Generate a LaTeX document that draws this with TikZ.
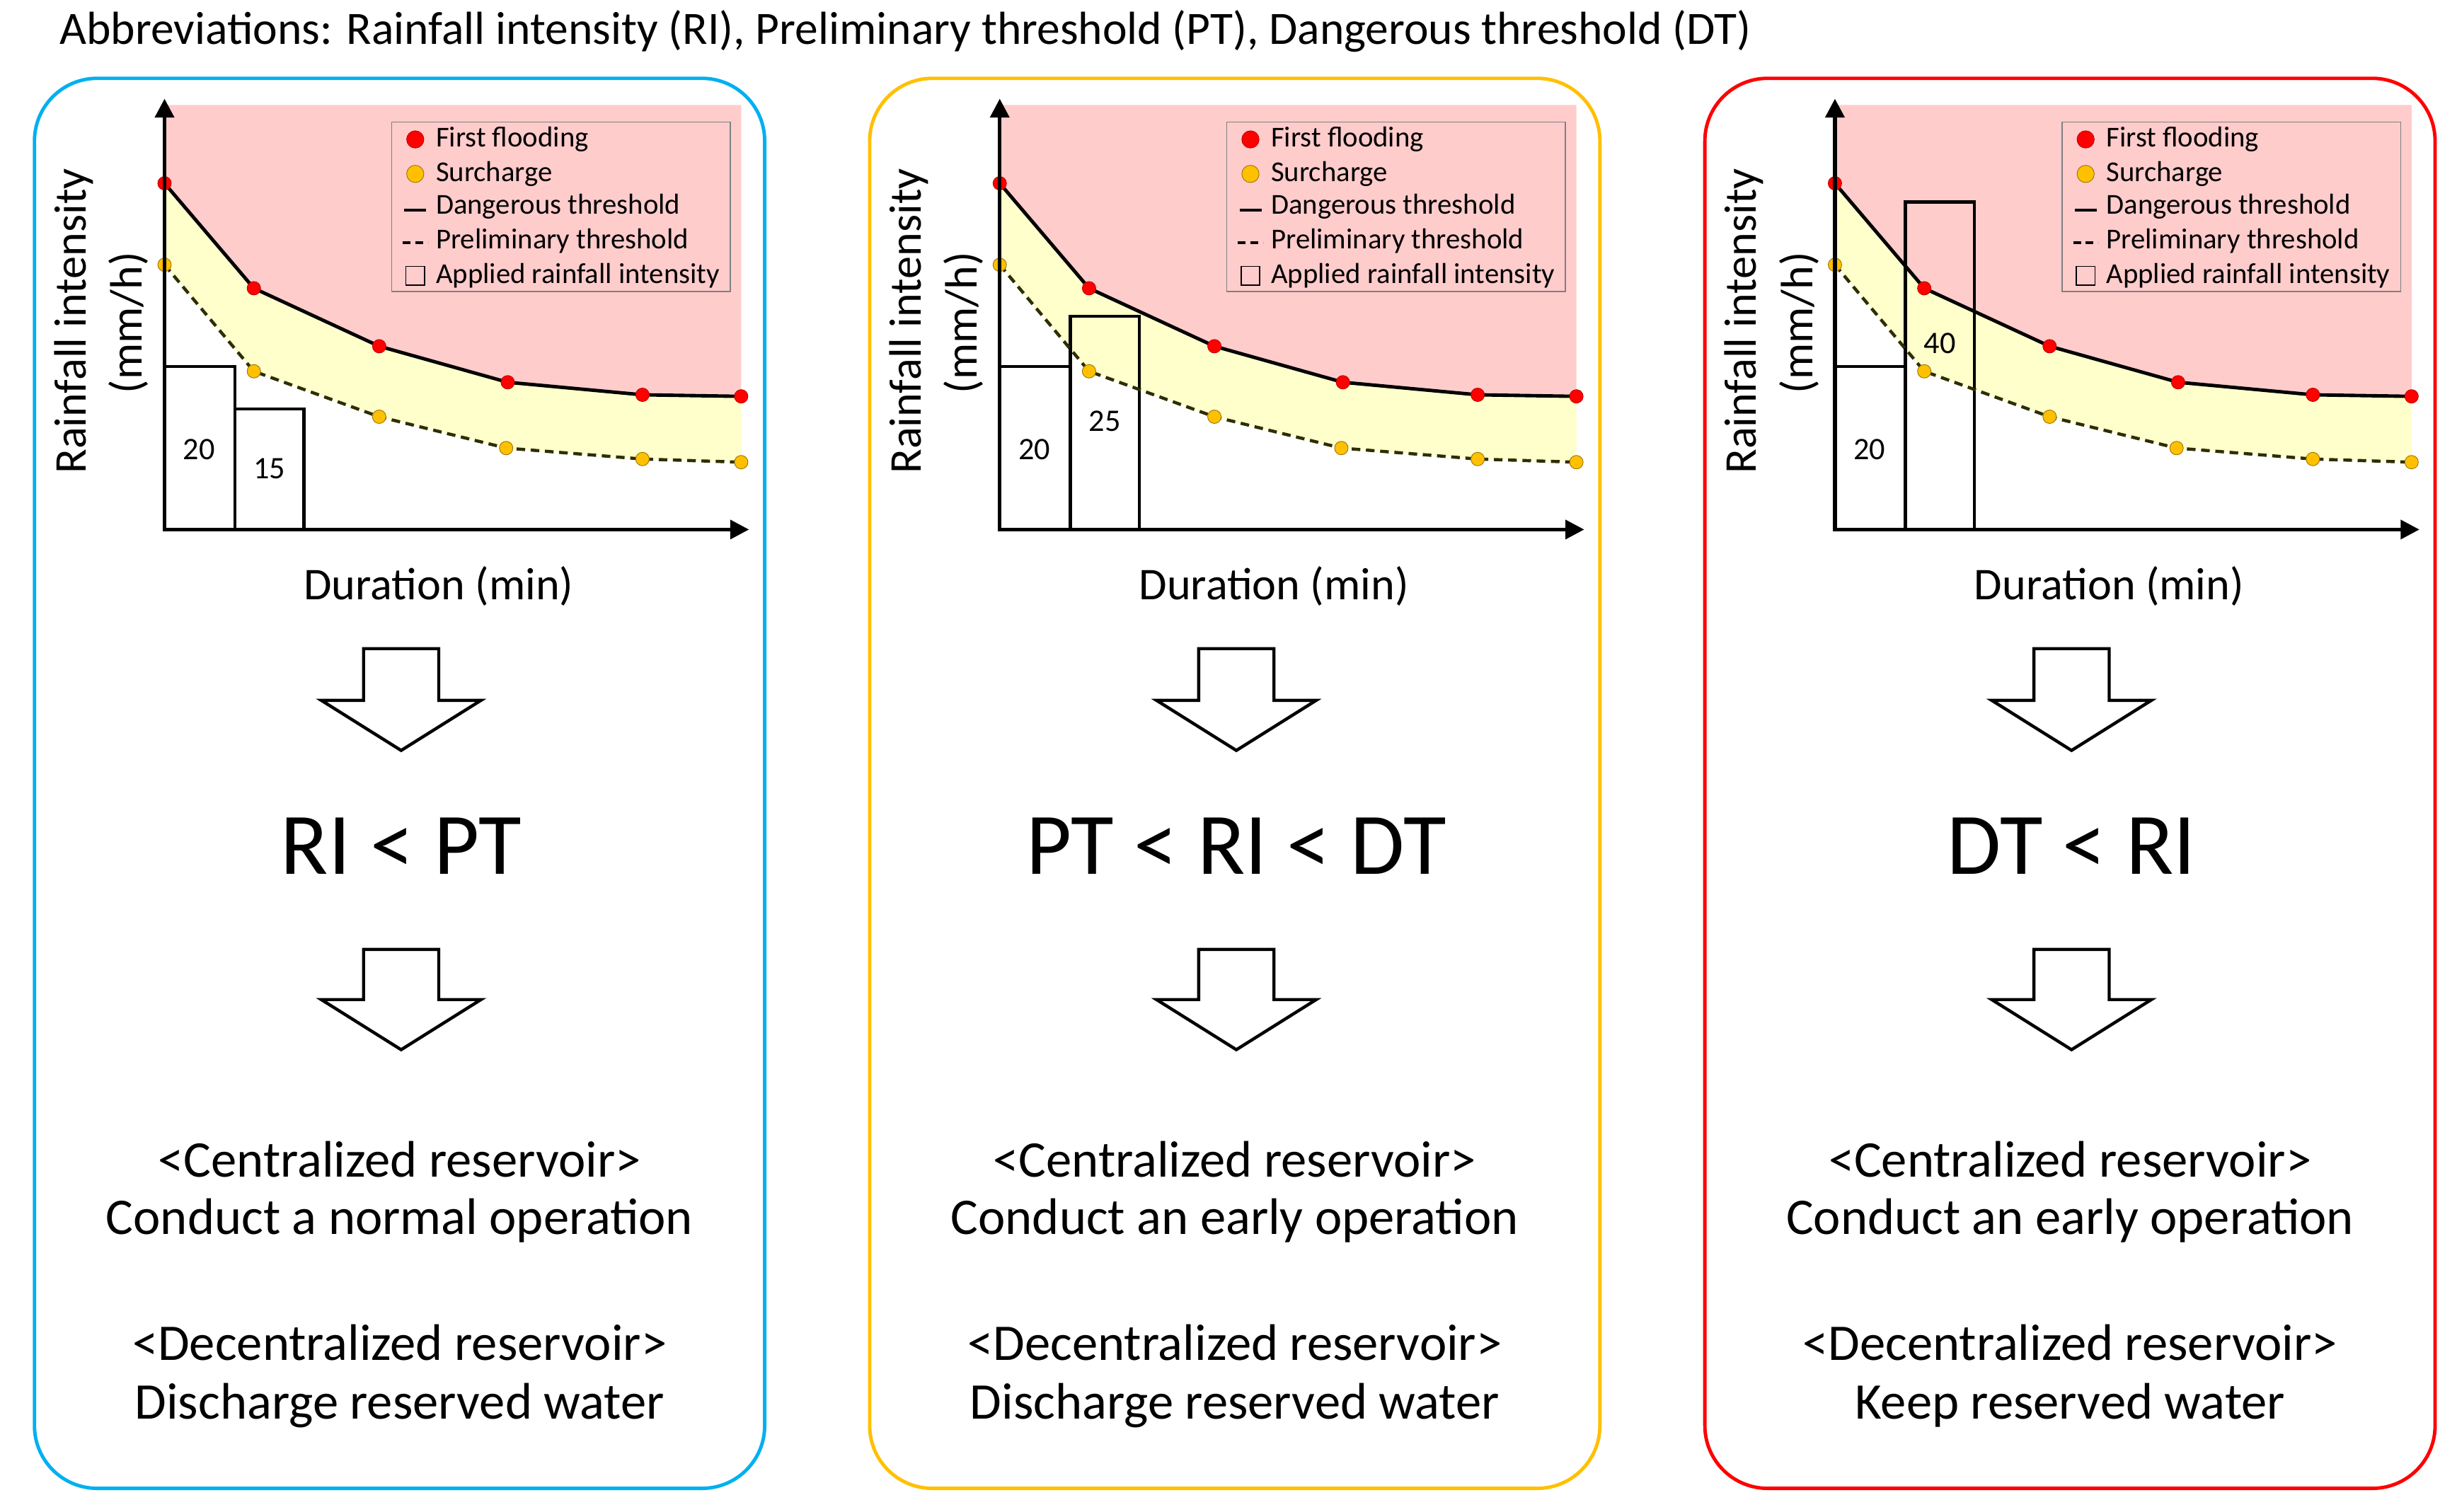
\documentclass[tikz,border=0pt]{standalone}
\usepackage{fontspec}
\setmainfont{Carlito}
\usetikzlibrary{arrows.meta}
\definecolor{blau}{HTML}{00B0F0}
\definecolor{gold}{HTML}{FFC000}
\definecolor{rot}{HTML}{FF0000}
\definecolor{rosa}{HTML}{FFCCCC}
\definecolor{hellgelb}{HTML}{FFFFCC}
\definecolor{oliv}{HTML}{2E2E00}

\begin{document}
\begin{tikzpicture}[x=1pt,y=-1pt,
  rahmen/.style={line width=2.2pt, rounded corners=40pt},
  achse/.style={line width=2.4pt, -{Triangle[length=12pt,width=12pt]}},
  grenze/.style={line width=2.2pt, black},
  vorgrenze/.style={line width=2pt, oliv, dash pattern=on 5.5pt off 3.6pt},
  balken/.style={line width=2pt},
  rotpunkt/.style={fill=rot, draw=rot!75!black, line width=0.4pt},
  gelbpunkt/.style={fill=gold, draw=gold!60!black, line width=0.4pt},
  pfeil/.style={line width=2pt, fill=white, line join=miter},
  legtext/.style={font=\fontsize{18.4}{21}\selectfont, anchor=west, inner sep=0pt},
  achsentext/.style={font=\fontsize{29}{34}\selectfont},
  wert/.style={font=\fontsize{20}{24}\selectfont},
  regel/.style={font=\fontsize{56}{66}\selectfont},
  aktion/.style={font=\fontsize{32.8}{38}\selectfont}]
\useasboundingbox (0,0) rectangle (1568,965);

%Abkuerzungen
\node[font=\fontsize{29.6}{35}\selectfont] (titel) at (578,20) {Abbreviations: Rainfall intensity (RI), Preliminary threshold (PT), Dangerous threshold (DT)};

\foreach \n/\dx/\farbe/\hoehe/\wy/\wert/\regel/\zentral/\dezentral in {%
  1/0/blau/261/299/15/{RI < PT}/{Conduct a normal operation}/{Discharge reserved water},%
  2/533/gold/202/269/25/{PT < RI < DT}/{Conduct an early operation}/{Discharge reserved water},%
  3/1066/rot/129/219/40/{DT < RI}/{Conduct an early operation}/{Keep reserved water}}{
\begin{scope}[xshift=\dx]
  %Rahmen
  \draw[rahmen, \farbe] (22,50) rectangle (488,950);

  %Bereiche ueber den Schwellen
  \fill[rosa] (105,67) -- (473,67) -- (473,253) -- (410,252) -- (324,244) -- (242,221) -- (162,184) -- (105,117) -- cycle;
  \fill[hellgelb] (105,117) -- (162,184) -- (242,221) -- (324,244) -- (410,252) -- (473,253) -- (473,295) -- (410,293) -- (323,286) -- (242,266) -- (162,237) -- (105,169) -- cycle;

  %Regenintensitaet
  \draw[balken] (105,338) rectangle (150,234);
  \draw[balken] (150,338) rectangle (194,\hoehe);
  \node[wert] (a\n) at (127,287) {20};
  \node[wert] (b\n) at (172,\wy) {\wert};

  %Schwellen
  \draw[grenze] (105,117) -- (162,184) -- (242,221) -- (324,244) -- (410,252) -- (473,253);
  \draw[vorgrenze] (105,169) -- (162,237) -- (242,266) -- (323,286) -- (410,293) -- (473,295);
  \foreach \px/\py in {105/117,162/184,242/221,324/244,410/252,473/253}
    \draw[rotpunkt] (\px,\py) circle (4.3);
  \foreach \px/\py in {105/169,162/237,242/266,323/286,410/293,473/295}
    \draw[gelbpunkt] (\px,\py) circle (4.3);

  %Achsen
  \draw[achse] (104,338) -- (478,338);
  \draw[achse] (105,339) -- (105,63);
  \node[achsentext, rotate=90] (yl\n) at (47,205) {Rainfall intensity};
  \node[achsentext, rotate=90] (ye\n) at (82,206) {(mm/h)};
  \node[achsentext] (xl\n) at (280,374) {Duration (min)};

  %Legende
  \draw[gray, line width=0.6pt, fill=rosa] (250,78) rectangle (466,186);
  \draw[rotpunkt] (265,89) circle (5.5);
  \draw[gelbpunkt] (265,111) circle (5.5);
  \draw[line width=1.8pt] (258,134) -- (272,134);
  \draw[line width=1.8pt, dash pattern=on 5pt off 3pt] (257,155) -- (273,155);
  \draw[line width=0.8pt] (259,170) rectangle (271,182);
  \node[legtext] (l1\n) at (278,89) {First flooding};
  \node[legtext] (l2\n) at (278,111) {Surcharge};
  \node[legtext] (l3\n) at (278,132) {Dangerous threshold};
  \node[legtext] (l4\n) at (278,154) {Preliminary threshold};
  \node[legtext] (l5\n) at (278,176) {Applied rainfall intensity};

  %Blockpfeile
  \draw[pfeil] (232,414) -- (280,414) -- (280,447) -- (307,447) -- (256,479) -- (205,447) -- (232,447) -- cycle;
  \draw[pfeil] (232,606) -- (280,606) -- (280,638) -- (307,638) -- (256,670) -- (205,638) -- (232,638) -- cycle;

  \node[regel] (r\n) at (256,540) {\regel};
  \node[aktion] (c\n) at (255,740) {<Centralized reservoir>};
  \node[aktion] (co\n) at (255,779) {\zentral};
  \node[aktion] (d\n) at (255,857) {<Decentralized reservoir>};
  \node[aktion] (do\n) at (255,897) {\dezentral};
\end{scope}
}
\end{tikzpicture}
\end{document}
